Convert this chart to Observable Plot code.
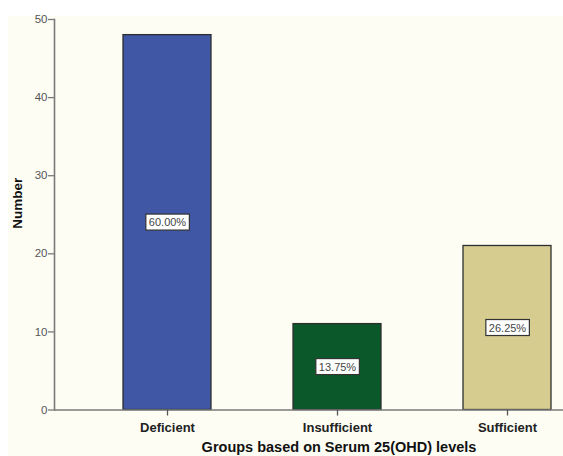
<!DOCTYPE html>
<html>
<head>
<meta charset="utf-8">
<script src="https://cdn.jsdelivr.net/npm/d3@7"></script>
<script src="https://cdn.jsdelivr.net/npm/@observablehq/plot@0.6"></script>
<style>
  html, body { margin: 0; padding: 0; background: #ffffff; }
  #wrap { padding-left: 8px; padding-top: 16px; width: 555px; height: 440px; overflow: hidden; }
  #wrap svg { display: block; }
</style>
</head>
<body>
<div id="wrap"></div>
<script>
const categories = ["Deficient", "Insufficient", "Sufficient"];
const counts = [48, 11, 21];
const percentLabels = ["60.00%", "13.75%", "26.25%"];
const barColors = ["#3f57a5", "#0b592b", "#d6cc90"];
const yTicks = [0, 10, 20, 30, 40, 50];
const yLabel = "Number";
const xTitle = "Groups based on Serum 25(OHD) levels";

const data = categories.map((c, i) => ({cat: c, count: counts[i], pct: percentLabels[i]}));
const font = "'Liberation Sans', Arial, sans-serif";

const chart = Plot.plot({
  width: 555,
  height: 440,
  marginLeft: 46,
  marginTop: 3,
  marginBottom: 46.5,
  marginRight: 0,
  style: {background: "#fdfdf4", fontFamily: font, overflow: "visible"},
  x: {domain: categories, range: [114.7, 543.7], paddingInner: 0.482, paddingOuter: 0, label: null},
  y: {domain: [0, 50], ticks: yTicks, label: null},
  color: {domain: categories, range: barColors},
  marks: [
    Plot.barY(data, {x: "cat", y: "count", fill: "cat", stroke: "#2e2e2e", strokeWidth: 1.3}),
    Plot.ruleY([0], {stroke: "#7a7a7a", strokeWidth: 1.6}),
    Plot.frame({anchor: "left", stroke: "#7a7a7a", strokeWidth: 1.6}),
    Plot.axisY({ticks: yTicks, tickSize: 6, tickPadding: 1, fontSize: 11.5, stroke: "#7a7a7a", fill: "#555", strokeWidth: 1.3, label: null}),
    Plot.axisX({tickSize: 6, tickPadding: 7, fontSize: 13, fontWeight: "bold", fill: "#222", stroke: "#555", strokeWidth: 1.3, label: null}),
    Plot.text(data, {x: "cat", y: d => d.count / 2, text: "pct", fontSize: 11, fill: "#444", className: "pctlabel"}),
    Plot.text([yLabel], {frameAnchor: "left", rotate: -90, dx: -37, dy: 14, fontSize: 13.5, fontWeight: "bold", fill: "#111"}),
    Plot.text([xTitle], {frameAnchor: "bottom", dx: 30, dy: 41.5, fontSize: 14.5, fontWeight: "bold", fill: "#111"})
  ]
});

document.getElementById("wrap").append(chart);

// white boxes behind percentage labels
const svgNS = "http://www.w3.org/2000/svg";
chart.querySelectorAll(".pctlabel text").forEach(t => {
  const b = t.getBBox();
  const r = document.createElementNS(svgNS, "rect");
  r.setAttribute("x", b.x - 3);
  r.setAttribute("y", b.y - 2);
  r.setAttribute("width", b.width + 6);
  r.setAttribute("height", b.height + 4);
  r.setAttribute("fill", "#ffffff");
  r.setAttribute("stroke", "#333");
  r.setAttribute("stroke-width", "1.2");
  const tr = t.getAttribute("transform");
  if (tr) r.setAttribute("transform", tr);
  t.parentNode.insertBefore(r, t);
});
</script>
</body>
</html>
